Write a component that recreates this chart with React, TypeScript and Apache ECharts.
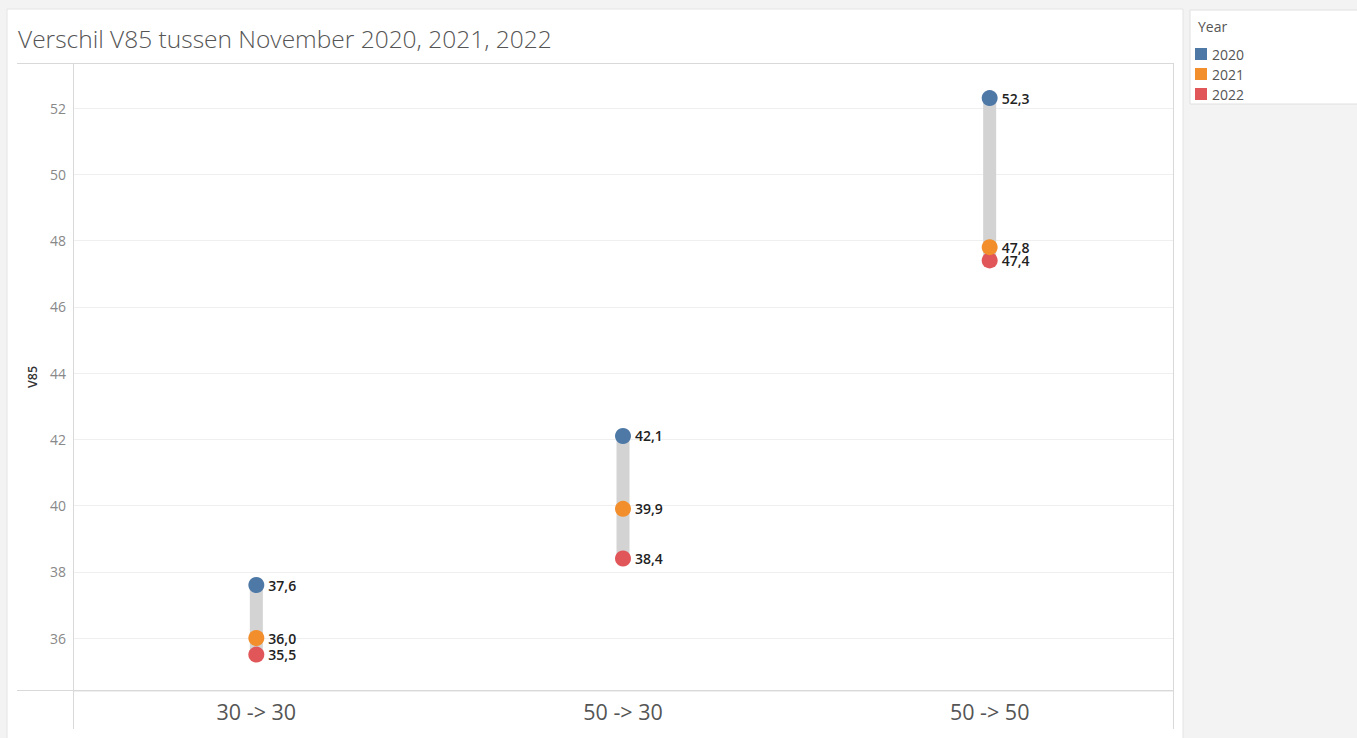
import React, { useEffect, useRef } from "react";
import * as echarts from "echarts";

const categories = ["30 -> 30", "50 -> 30", "50 -> 50"];
const years = ["2020", "2021", "2022"];
const v2020 = [37.6, 42.1, 52.3];
const v2021 = [36.0, 39.9, 47.8];
const v2022 = [35.5, 38.4, 47.4];
const yearValues = [v2020, v2021, v2022];
const yearColors = ["#4e79a7", "#f28e2b", "#e15759"];
const yMin = 34.4;
const yMax = 53.36;

const FONT = "'Open Sans', 'Noto Sans', sans-serif";

export default function App() {
  const ref = useRef<HTMLDivElement>(null);
  useEffect(() => {
    if (!ref.current) return;
    const chart = echarts.init(ref.current, undefined, { renderer: "svg" });
    const lows = categories.map((_, i) => Math.min(v2020[i], v2021[i], v2022[i]));
    const highs = categories.map((_, i) => Math.max(v2020[i], v2021[i], v2022[i]));
    const ranges = highs.map((h, i) => +(h - lows[i]).toFixed(2));
    const lineColor = "#d9d9d9";

    const option: any = {
      animation: false,
      backgroundColor: "#f3f3f3",
      textStyle: { fontFamily: FONT },
      graphic: [
        { type: "rect", z: -10, shape: { x: 7, y: 9, width: 1176, height: 740 }, style: { fill: "#ffffff", stroke: "#e4e4e4", lineWidth: 1 } },
        { type: "rect", z: -10, shape: { x: 1190, y: 10, width: 170, height: 94 }, style: { fill: "#ffffff", stroke: "#e0e0e0", lineWidth: 1 } },
        { type: "text", left: 1198, top: 19, style: { text: "Year", fill: "#555555", fontSize: 14, fontFamily: FONT } },
        { type: "text", left: 18, top: 26, style: { text: "Verschil V85 tussen November 2020, 2021, 2022", fill: "#555555", fontSize: 24.5, fontFamily: FONT, fontWeight: 300 } },
        { type: "line", z: 10, shape: { x1: 17, y1: 63.5, x2: 1173, y2: 63.5 }, style: { stroke: lineColor, lineWidth: 1 } },
        { type: "line", z: 10, shape: { x1: 17, y1: 690.5, x2: 1173, y2: 690.5 }, style: { stroke: lineColor, lineWidth: 1 } },
        { type: "line", z: 10, shape: { x1: 73.5, y1: 63, x2: 73.5, y2: 729 }, style: { stroke: lineColor, lineWidth: 1 } },
        { type: "line", z: 10, shape: { x1: 1173.5, y1: 63, x2: 1173.5, y2: 729 }, style: { stroke: lineColor, lineWidth: 1 } },
      ],
      legend: {
        orient: "vertical",
        left: 1190,
        top: 42,
        itemWidth: 12,
        itemHeight: 12,
        itemGap: 6,
        icon: "rect",
        data: years,
        textStyle: { color: "#555555", fontSize: 14, fontFamily: FONT, lineHeight: 12 },
      },
      grid: { left: 73, right: 184, top: 63, bottom: 47 },
      xAxis: {
        type: "category",
        data: categories,
        axisLine: { show: false },
        axisTick: { show: false },
        axisLabel: { fontSize: 21.5, color: "#555555", margin: 9, fontFamily: FONT },
        splitLine: { show: false },
      },
      yAxis: {
        type: "value",
        min: yMin,
        max: yMax,
        minInterval: 2,
        maxInterval: 2,
        name: "V85",
        nameLocation: "middle",
        nameGap: 33,
        nameTextStyle: { fontSize: 12.5, color: "#333333", fontFamily: FONT, fontWeight: 600 },
        axisLine: { show: false },
        axisTick: { show: false },
        axisLabel: {
          fontSize: 14,
          color: "#888888",
          margin: 7,
          fontFamily: FONT,
          formatter: (v: number) => (Math.abs(v / 2 - Math.round(v / 2)) < 1e-6 ? String(v) : ""),
        },
        splitLine: { show: true, lineStyle: { color: "#efefef", width: 1 } },
      },
      series: [
        {
          type: "bar",
          stack: "range",
          data: lows,
          barWidth: 13,
          itemStyle: { color: "transparent" },
          silent: true,
          legendHoverLink: false,
        },
        {
          type: "bar",
          stack: "range",
          data: ranges,
          barWidth: 13,
          itemStyle: { color: "#d3d3d3" },
          silent: true,
        },
        ...years.map((y, k) => ({
          name: y,
          type: "scatter",
          data: yearValues[k],
          symbolSize: 16,
          itemStyle: { color: yearColors[k], opacity: 1 },
          z: 5 + (2 - k),
          label: {
            show: true,
            position: "right",
            distance: 4,
            fontSize: 14,
            fontWeight: 600,
            color: "#222222",
            fontFamily: FONT,
            formatter: (p: any) => Number(p.value).toFixed(1).replace(".", ","),
          },
        })),
      ],
    };
    chart.setOption(option);
    return () => chart.dispose();
  }, []);
  return <div ref={ref} style={{ position: "fixed", left: 0, top: 0, width: 1357, height: 738 }} />;
}
